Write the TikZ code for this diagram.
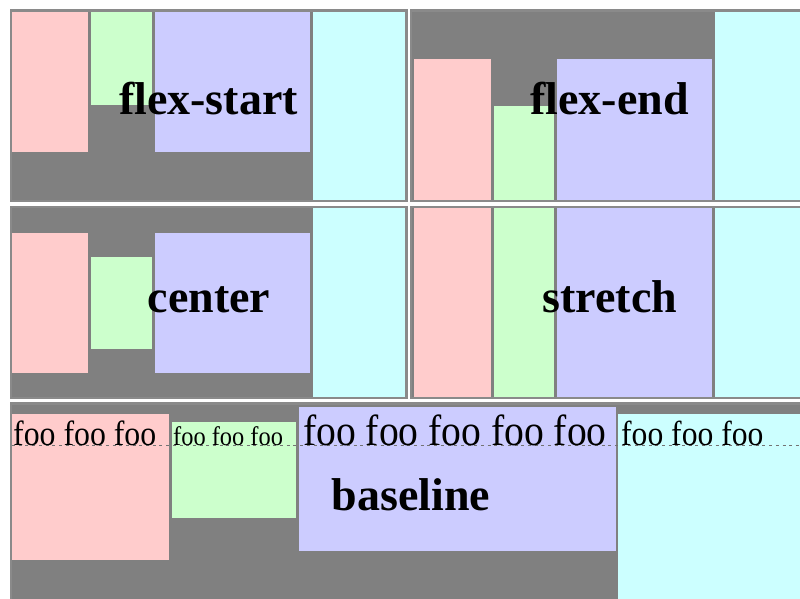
\documentclass[tikz,border=0pt]{standalone}
\usepackage{fontspec}
\setmainfont{Liberation Serif}
\definecolor{bggray}{HTML}{808080}
\definecolor{bdgray}{HTML}{8A8A8A}
\definecolor{pinkc}{HTML}{FFCCCC}
\definecolor{greenc}{HTML}{CCFFCC}
\definecolor{bluec}{HTML}{CCCCFF}
\definecolor{cyanc}{HTML}{CCFFFF}
\tikzset{
  panel/.style={fill=bggray, draw=bdgray, line width=2.5pt},
  pinkbox/.style={fill=pinkc},
  greenbox/.style={fill=greenc},
  bluebox/.style={fill=bluec},
  cyanbox/.style={fill=cyanc},
  lbl/.style={font=\fontsize{46}{46}\selectfont\bfseries, inner sep=0pt, anchor=base, text=black},
  foo/.style={inner sep=0pt, anchor=base west, text=black},
  baseln/.style={draw=gray!90!black, line width=0.9pt, dash pattern=on 3pt off 3.7pt}
}
\begin{document}
\begin{tikzpicture}[x=1pt,y=-1pt]
\useasboundingbox (0,0) rectangle (800,599);
\fill[white] (0,0) rectangle (800,599);
\clip (0,0) rectangle (800,599);
% panels
\filldraw[panel] (10.75,10.75) rectangle (406.25,200.75);
\filldraw[panel] (410.75,10.75) rectangle (815,200.75);
\filldraw[panel] (10.75,206.75) rectangle (406.25,397.75);
\filldraw[panel] (410.75,206.75) rectangle (815,397.75);
\filldraw[panel] (10.75,403.25) rectangle (815,620);
% flex-start
\fill[pinkbox] (12,12) rectangle (88,152);
\fill[greenbox] (91,12) rectangle (152,105);
\fill[bluebox] (155,12) rectangle (310,152);
\fill[cyanbox] (313,12) rectangle (405,199.5);
% flex-end
\fill[pinkbox] (414,59.5) rectangle (491,199.5);
\fill[greenbox] (493.5,106.5) rectangle (554,199.5);
\fill[bluebox] (557,59.5) rectangle (712,199.5);
\fill[cyanbox] (715,12) rectangle (815,199.5);
% center
\fill[pinkbox] (12,232.5) rectangle (88,372.5);
\fill[greenbox] (91,256.5) rectangle (152,349);
\fill[bluebox] (155,232.5) rectangle (310,372.5);
\fill[cyanbox] (313,208) rectangle (405,396.5);
% stretch
\fill[pinkbox] (414,208) rectangle (491,396.5);
\fill[greenbox] (493.5,208) rectangle (554,396.5);
\fill[bluebox] (557,208) rectangle (712,396.5);
\fill[cyanbox] (715,208) rectangle (815,396.5);
% baseline
\fill[pinkbox] (12,414) rectangle (169,560);
\fill[greenbox] (172,422) rectangle (296,518);
\fill[bluebox] (299,406.5) rectangle (616,551);
\fill[cyanbox] (618,414) rectangle (815,620);
\coordinate (bl1) at (12,445);
\coordinate (bl2) at (800,445);
\draw[baseln] (bl1) -- (bl2);
% foo texts
\node[foo, font=\fontsize{31.8}{32}\selectfont] (foo1) at (13,445) {\scalebox{1}[1.1]{foo foo foo}};
\node[foo, font=\fontsize{24.4}{24}\selectfont] (foo2) at (173,445) {\scalebox{1}[1.1]{foo foo foo}};
\node[foo, font=\fontsize{39.6}{40}\selectfont] (foo3) at (303,445) {\scalebox{1}[1.1]{foo foo foo foo foo}};
\node[foo, font=\fontsize{31.6}{32}\selectfont] (foo4) at (621,445) {\scalebox{1}[1.1]{foo foo foo}};
% labels
\node[lbl] (l1) at (208.5,115) {flex-start};
\node[lbl] (l2) at (609.5,115) {flex-end};
\node[lbl] (l3) at (209,312) {center};
\node[lbl] (l4) at (610,312) {stretch};
\node[lbl] (l5) at (411,510) {baseline};
\end{tikzpicture}
\end{document}
